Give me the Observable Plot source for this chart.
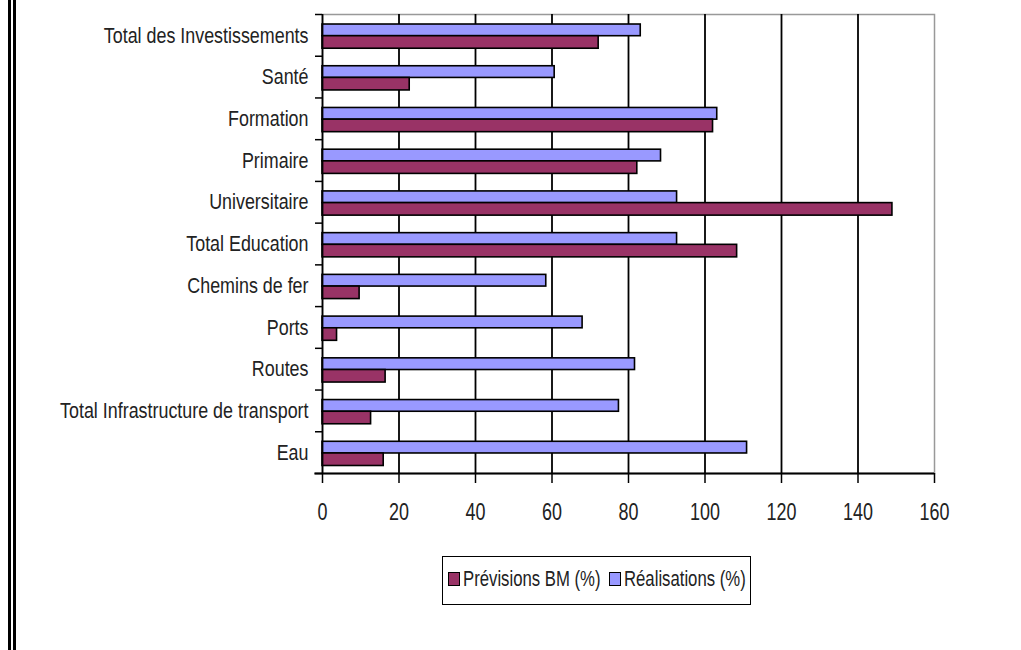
<!DOCTYPE html>
<html>
<head>
<meta charset="utf-8">
<script src="https://cdn.jsdelivr.net/npm/d3@7"></script>
<script src="https://cdn.jsdelivr.net/npm/@observablehq/plot@0.6"></script>
<style>
  html, body { margin: 0; padding: 0; background: #fff; }
  #wrap { position: relative; width: 1021px; height: 650px; overflow: hidden; background: #fff; }
  .vline { position: absolute; top: 0; height: 650px; width: 3px; background: #000; }
  #chart { position: absolute; left: 0; top: 0; }
  #legend {
    position: absolute; left: 442px; top: 556px; width: 307px; height: 47px;
    border: 1.5px solid #000; box-sizing: content-box;
    font-family: "Liberation Sans", Arial, sans-serif;
    font-size: 22px; line-height: 22px; color: #222; white-space: nowrap;
  }
  #legend .sw { position: absolute; width: 10px; height: 12px; border: 1px solid #000; }
  #legend .lab { position: absolute; transform: scaleX(0.76); transform-origin: 0 0; }
</style>
</head>
<body>
<div id="wrap">
  <div class="vline" style="left:8px"></div>
  <div class="vline" style="left:13px"></div>
  <div id="chart"></div>
  <div id="legend"></div>
</div>
<script>
const categories = ["Total des Investissements", "Santé", "Formation", "Primaire", "Universitaire", "Total Education", "Chemins de fer", "Ports", "Routes", "Total Infrastructure de transport", "Eau"];
const previsions = [72.2, 22.8, 102.1, 82.3, 149, 108.4, 9.7, 3.8, 16.5, 12.7, 16];
const realisations = [83.2, 60.7, 103.2, 88.5, 92.7, 92.7, 58.5, 68, 81.7, 77.5, 111];
const xTicks = [0, 20, 40, 60, 80, 100, 120, 140, 160];
const seriesNames = ["Prévisions BM (%)", "Réalisations (%)"];
const seriesColors = ["#993366", "#9999FF"];

const FONT = '"Liberation Sans", Arial, sans-serif';

const rows = categories.map((c, i) => ({cat: c, i, prev: previsions[i], real: realisations[i]}));
const n = categories.length;
const idx = d3.range(n + 1);
const centers = d3.range(n).map(i => i + 0.5);

const chart = Plot.plot({
  width: 1021,
  height: 540,
  marginLeft: 322,
  marginRight: 87,
  marginTop: 14,
  marginBottom: 67,
  style: {fontFamily: FONT, background: "transparent", color: "#222", overflow: "visible"},
  x: {type: "linear", domain: [0, 160], axis: null},
  y: {type: "linear", domain: [0, n], reverse: true, axis: null},
  marks: [
    Plot.frame({stroke: "#999", strokeWidth: 1.5}),
    Plot.ruleX(xTicks.filter(t => t > 0 && t < 160), {stroke: "#000", strokeWidth: 1.8}),
    Plot.rectX(rows, {x1: 0, x2: "real", y1: d => d.i + 0.24, y2: d => d.i + 0.52, fill: seriesColors[1], stroke: "#000", strokeWidth: 1.6}),
    Plot.rectX(rows, {x1: 0, x2: "prev", y1: d => d.i + 0.52, y2: d => d.i + 0.82, fill: seriesColors[0], stroke: "#000", strokeWidth: 1.6}),
    Plot.ruleX([0], {stroke: "#000", strokeWidth: 1.8}),
    Plot.ruleY([n], {x1: -2, x2: 160, stroke: "#000", strokeWidth: 1.8, clip: false}),
    Plot.axisY(idx, {tickSize: 7, text: null, stroke: "#000", strokeWidth: 1.5}),
    Plot.axisY(centers, {tickSize: 0, tickPadding: 14, tickFormat: d => categories[Math.floor(d)], fontSize: 22.5, fill: "#222"}),
    Plot.axisX(xTicks, {tickSize: 10, tickPadding: 20, fontSize: 23, fill: "#222", stroke: "#000", strokeWidth: 1.5})
  ]
});

// Condense the axis labels horizontally (the reference uses a narrow typeface)
function squeeze(root, selector, s) {
  root.querySelectorAll(selector).forEach(t => {
    const xa = t.getAttribute("x");
    const x = xa != null && isFinite(+xa) ? +xa : 0;
    if (xa != null && isFinite(+xa)) t.setAttribute("x", 0);
    const tr = t.getAttribute("transform") || "";
    t.setAttribute("transform", `${tr} translate(${x},0) scale(${s},1)`.trim());
  });
}
squeeze(chart, 'g[aria-label="y-axis tick label"] text', 0.795);
squeeze(chart, 'g[aria-label="x-axis tick label"] text', 0.78);
document.getElementById("chart").appendChild(chart);

const legend = document.getElementById("legend");
const swLeft = [5, 166], labLeft = [20, 181];
seriesNames.forEach((name, k) => {
  const sw = document.createElement("span");
  sw.className = "sw";
  sw.style.background = seriesColors[k];
  sw.style.left = swLeft[k] + "px";
  sw.style.top = "15px";
  legend.appendChild(sw);
  const lab = document.createElement("span");
  lab.className = "lab";
  lab.style.left = labLeft[k] + "px";
  lab.style.top = "11px";
  lab.textContent = name;
  legend.appendChild(lab);
});
</script>
</body>
</html>
